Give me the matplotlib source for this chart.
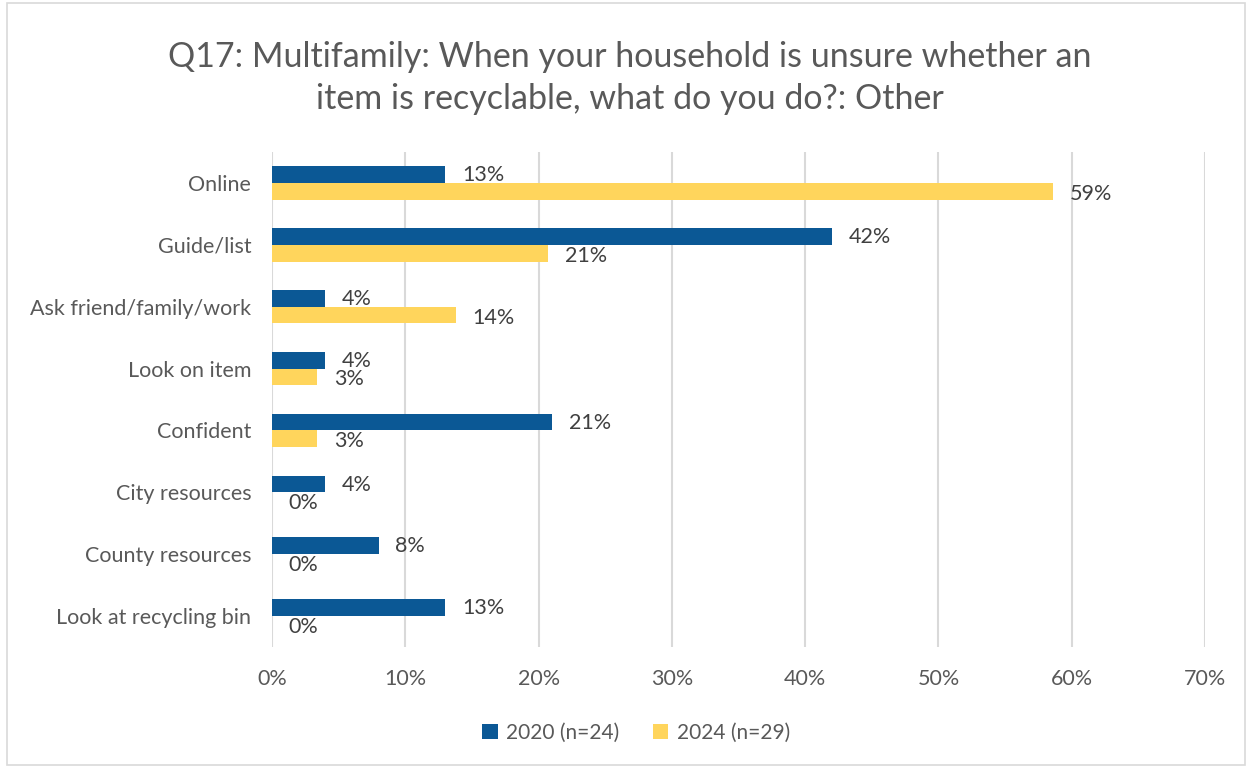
import matplotlib.pyplot as plt
import numpy as np
from matplotlib.patches import Rectangle

# data
categories = ["Online", "Guide/list", "Ask friend/family/work", "Look on item",
              "Confident", "City resources", "County resources", "Look at recycling bin"]
vals_2020 = [13, 42, 4, 4, 21, 4, 8, 13]
vals_2024 = [58.6, 20.7, 13.8, 3.4, 3.4, 0.0, 0.0, 0.0]
series_names = ["2020 (n=24)", "2024 (n=29)"]
x_ticks = [0, 10, 20, 30, 40, 50, 60, 70]

BLUE = "#0B5895"
YELLOW = "#FFD55C"
TEXT = "#595959"
GRID = "#D9D9D9"
FS = 15.5

plt.rcParams['font.family'] = ['Lato', 'DejaVu Sans']

fig = plt.figure(figsize=(12.52, 7.67), dpi=100)
ax = fig.add_axes([272 / 1252, 1 - 647 / 767, (1205 - 272) / 1252, (647 - 152) / 767])

y = np.arange(len(categories))
h = 0.27
ax.barh(y - h / 2, vals_2020, height=h, color=BLUE, label=series_names[0], zorder=3)
ax.barh(y + h / 2, vals_2024, height=h, color=YELLOW, label=series_names[1], zorder=3)

# data labels, blue ones a touch up and yellow a touch down so they read apart
for yi, v in zip(y, vals_2020):
    ax.text(v + 1.25, yi - h / 2 + 0.01, f"{v:.0f}%", va="center", ha="left",
            fontsize=FS, color="#404040")
for yi, v in zip(y, vals_2024):
    ax.text(v + 1.25, yi + h / 2 + 0.04, f"{v:.0f}%", va="center", ha="left",
            fontsize=FS, color="#404040")

ax.set_xlim(0, 70)
ax.set_ylim(len(categories) - 0.5, -0.5)
ax.set_xticks(x_ticks)
ax.set_xticklabels([f"{t}%" for t in x_ticks], fontsize=FS, color=TEXT)
ax.set_yticks(y)
ax.set_yticklabels(categories, fontsize=FS, color=TEXT)
ax.tick_params(axis="both", length=0)
ax.tick_params(axis="x", pad=16)
ax.tick_params(axis="y", pad=15)
ax.grid(axis="x", color=GRID, linewidth=1.5, zorder=0)
for s in ax.spines.values():
    s.set_visible(False)

fig.text(0.503, 1 - 78 / 767, "Q17: Multifamily: When your household is unsure whether an\n"
         "item is recyclable, what do you do?: Other", ha="center", va="center",
         fontsize=24.5, color=TEXT, linespacing=1.38)

fig.legend(loc="center", bbox_to_anchor=(636 / 1252, 1 - 733 / 767), ncol=2,
           frameon=False, fontsize=15, labelcolor=TEXT, handlelength=0.75,
           handleheight=0.75, columnspacing=1.6, handletextpad=0.4)

fig.patches.append(Rectangle((7 / 1252, 0.002), 1 - 14 / 1252, 0.994, transform=fig.transFigure,
                             fill=False, edgecolor=GRID, linewidth=1.2))

fig.savefig("out.png", dpi=100)
